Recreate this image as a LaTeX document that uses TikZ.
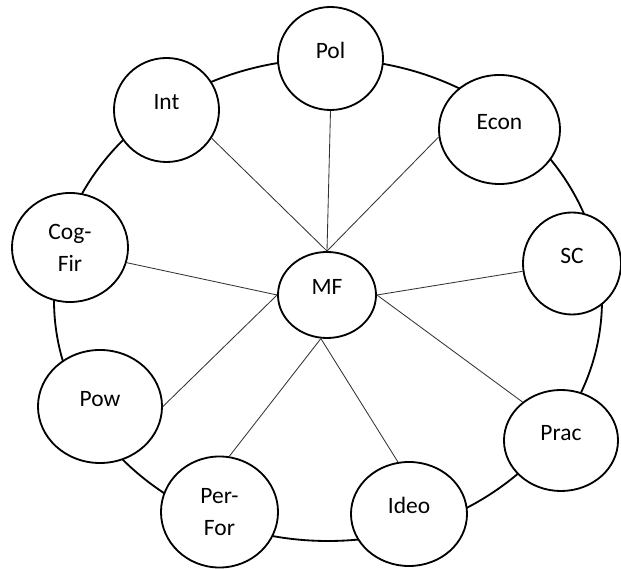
\documentclass[tikz,border=0pt]{standalone}
\usepackage{fontspec}
\setmainfont{Carlito}
\usepackage{tikz}
\usetikzlibrary{shapes.geometric}
\tikzset{
  every node/.style={font=\fontsize{16.7}{22.8}\selectfont}
}

\begin{document}
\begin{tikzpicture}[x=0.025cm, y=-0.025cm] % one unit = one pixel of the sketch
  % Define styles for factors
  \tikzset{
    factor/.style={
      draw=black,
      ellipse,
      fill=white,
      inner sep=0pt,
      line width=1.3pt
    },
    oneline/.style={
      text height=12pt,
      text depth=12pt
    },
    twoline/.style={
      align=center
    },
    ring/.style={
      draw=black,
      line width=1.3pt
    },
    edge/.style={
      draw=black!80,
      line width=0.6pt
    }
  }
  \useasboundingbox (0,0) rectangle (621,569);

  % Outer ring behind the factors
  \draw[ring] (328,300) ellipse [x radius=274, y radius=241];

  % Factors on the ring
  \node[factor, oneline, minimum width=2.625cm, minimum height=2.575cm] (pol) at (330.5,58.5) {Pol};
  \node[factor, oneline, minimum width=2.625cm, minimum height=2.6cm] (int) at (166.5,110) {Int};
  \node[factor, oneline, minimum width=3.025cm, minimum height=2.725cm] (econ) at (499.5,129.5) {Econ};
  \node[factor, twoline, minimum width=2.9cm, minimum height=2.725cm] (cogfir) at (70,247.5) {Cog-\\Fir};
  \node[factor, oneline, minimum width=2.45cm, minimum height=2.55cm] (sc) at (572,263.5) {SC};
  \node[factor, oneline, minimum width=3.1cm, minimum height=2.825cm] (pow) at (100,406.5) {Pow};
  \node[factor, twoline, minimum width=2.925cm, minimum height=2.775cm] (perfor) at (219.5,512) {Per-\\For};
  \node[factor, oneline, minimum width=2.9cm, minimum height=2.6cm] (ideo) at (409,514) {Ideo};
  \node[factor, oneline, minimum width=2.85cm, minimum height=2.525cm] (prac) at (561,440.5) {Prac};

  % Centre
  \node[factor, oneline, minimum width=2.45cm, minimum height=2.15cm] (mf) at (327,295) {MF};

  % Connect centre to every factor
  \foreach \a/\b in {mf.north/int.-32, mf.north/pol.south, mf.north/econ.187,
                     mf.west/cogfir.-15, mf.west/pow.east,
                     mf.east/sc.189, mf.east/prac.135,
                     mf.262/perfor.80, mf.262/ideo.102} {
    \draw[edge] (\a) -- (\b);
  }
\end{tikzpicture}
\end{document}
